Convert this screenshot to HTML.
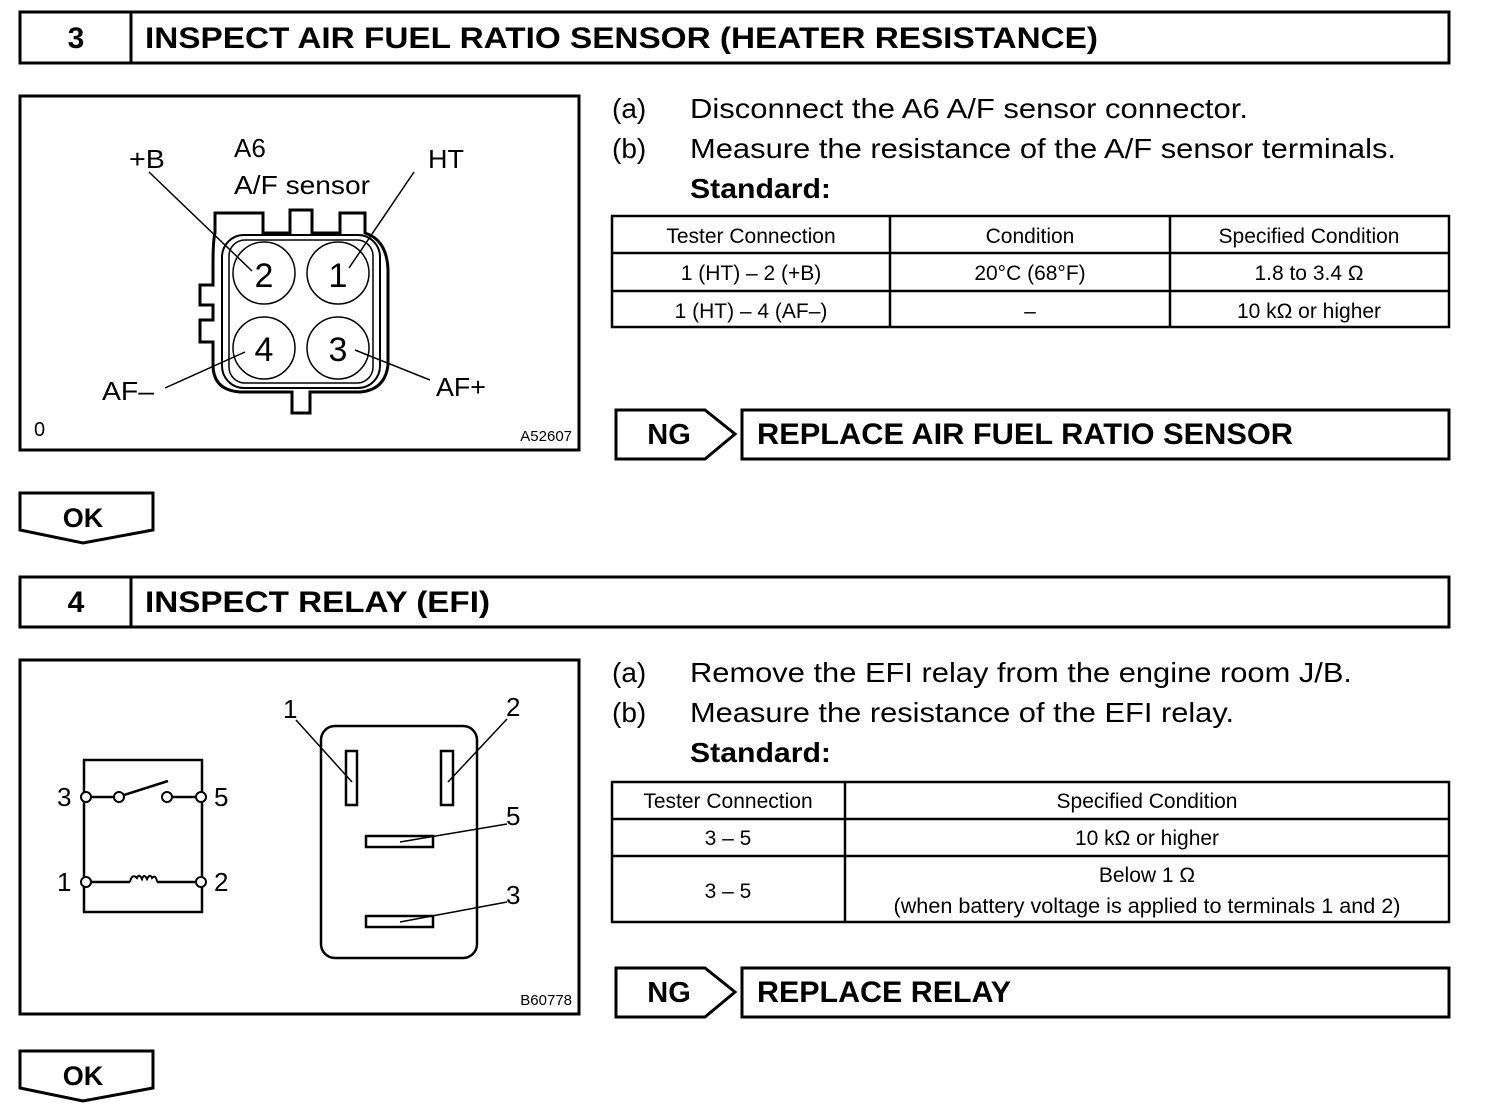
<!DOCTYPE html>
<html><head><meta charset="utf-8"><style>
html,body{margin:0;padding:0;background:#fff;width:1504px;height:1112px;overflow:hidden}
svg{display:block}
text{font-family:"Liberation Sans",Arial,sans-serif;fill:#000}
.b{font-weight:bold}
</style></head><body>
<svg width="1504" height="1112" viewBox="0 0 1504 1112" xmlns="http://www.w3.org/2000/svg">
<g fill="none" stroke="#000" stroke-width="3">
<rect x="20" y="12" width="1429" height="51"/>
<line x1="131" y1="12" x2="131" y2="63"/>
<rect x="20" y="96" width="559" height="354"/>
<rect x="612" y="216" width="837" height="111" stroke-width="2.5"/>
<line x1="612" y1="253" x2="1449" y2="253" stroke-width="2.5"/>
<line x1="612" y1="291" x2="1449" y2="291" stroke-width="2.5"/>
<line x1="890" y1="216" x2="890" y2="327" stroke-width="2.5"/>
<line x1="1170" y1="216" x2="1170" y2="327" stroke-width="2.5"/>
<path d="M616 410 H705 L735 434 L705 459 H616 Z"/>
<rect x="742" y="410" width="707" height="49"/>
<path d="M20 493 H153 V530 L83 543 L20 530 Z"/>
<rect x="20" y="577" width="1429" height="50"/>
<line x1="131" y1="577" x2="131" y2="627"/>
<rect x="20" y="660" width="559" height="354"/>
<rect x="612" y="782" width="837" height="140" stroke-width="2.5"/>
<line x1="612" y1="819" x2="1449" y2="819" stroke-width="2.5"/>
<line x1="612" y1="856" x2="1449" y2="856" stroke-width="2.5"/>
<line x1="845" y1="782" x2="845" y2="922" stroke-width="2.5"/>
<path d="M616 968 H705 L735 992 L705 1017 H616 Z"/>
<rect x="742" y="968" width="707" height="49"/>
<path d="M20 1051 H153 V1088 L83 1101 L20 1088 Z"/>
</g>

<g fill="none" stroke="#000">
<path stroke-width="3" d="M215 233 V213 H263 V233 H290 V210 H312 V233 H340 V213 H365 V233 Q387 240 388 270 V365 Q385 390 360 392 H310 V413 H292 V392 H240 Q213 390 213 365 V342 H200 V320 H213 V305 H200 V285 H213 V265 Q213 240 215 233 Z"/>
<rect x="222" y="235" width="158" height="153" rx="22" stroke-width="2"/>
<rect x="229" y="240" width="144" height="143" rx="16" stroke-width="1.5"/>
<circle cx="264" cy="273" r="31" stroke-width="1.5"/>
<circle cx="338" cy="273" r="31" stroke-width="1.5"/>
<circle cx="264" cy="348" r="31" stroke-width="1.5"/>
<circle cx="338" cy="348" r="31" stroke-width="1.5"/>
<g stroke-width="1.5">
<line x1="149" y1="172" x2="252" y2="271"/>
<line x1="414" y1="172" x2="349" y2="268"/>
<line x1="165" y1="388" x2="245" y2="352"/>
<line x1="355" y1="350" x2="430" y2="380"/>
</g>
</g>
<g>
<text x="264" y="287" font-size="34" text-anchor="middle">2</text>
<text x="338" y="287" font-size="34" text-anchor="middle">1</text>
<text x="264" y="361" font-size="34" text-anchor="middle">4</text>
<text x="338" y="361" font-size="34" text-anchor="middle">3</text>
<text x="129" y="168" font-size="26" textLength="36" lengthAdjust="spacingAndGlyphs">+B</text>
<text x="234" y="157" font-size="26">A6</text>
<text x="234" y="194" font-size="26" textLength="136" lengthAdjust="spacingAndGlyphs">A/F sensor</text>
<text x="428" y="168" font-size="26" textLength="36" lengthAdjust="spacingAndGlyphs">HT</text>
<text x="102" y="400" font-size="26" textLength="52" lengthAdjust="spacingAndGlyphs">AF–</text>
<text x="436" y="396" font-size="26" textLength="50" lengthAdjust="spacingAndGlyphs">AF+</text>
<text x="34" y="436" font-size="20">0</text>
<text x="572" y="441" font-size="15" text-anchor="end">A52607</text>
</g>

<g fill="none" stroke="#000" stroke-width="2.5">
<rect x="84" y="760" width="118" height="152"/>
<line x1="86" y1="797" x2="119" y2="797"/>
<line x1="124" y1="795" x2="168" y2="781"/>
<line x1="167" y1="797" x2="201" y2="797"/>
<line x1="86" y1="882" x2="130" y2="882"/>
<line x1="157" y1="882" x2="201" y2="882"/>
<path d="M130 882 Q132 873 137 878 Q139 873 142 879 Q144 873 147 879 Q150 873 152 878 Q156 874 157 882" stroke-width="2"/>
<rect x="321" y="726" width="156" height="232" rx="14"/>
<rect x="346" y="751" width="11" height="54"/>
<rect x="441" y="751" width="12" height="54"/>
<rect x="366" y="836" width="67" height="11"/>
<rect x="366" y="916" width="67" height="11"/>
<g stroke-width="1.5">
<line x1="296" y1="720" x2="352" y2="782"/>
<line x1="507" y1="719" x2="448" y2="782"/>
<line x1="507" y1="824" x2="400" y2="842"/>
<line x1="507" y1="902" x2="400" y2="922"/>
</g>
</g>
<g fill="#fff" stroke="#000" stroke-width="2">
<circle cx="86" cy="797" r="5"/><circle cx="119" cy="797" r="5"/>
<circle cx="167" cy="797" r="5"/><circle cx="201" cy="797" r="5"/>
<circle cx="86" cy="882" r="5"/><circle cx="201" cy="882" r="5"/>
</g>
<g font-size="26">
<text x="57" y="806">3</text><text x="214" y="806">5</text>
<text x="57" y="891">1</text><text x="214" y="891">2</text>
<text x="283" y="718">1</text><text x="506" y="716">2</text>
<text x="506" y="825">5</text><text x="506" y="904">3</text>
<text x="572" y="1005" font-size="15" text-anchor="end">B60778</text>
</g>

<g class="b" font-size="30">
<text x="76" y="48" text-anchor="middle" class="b">3</text>
<text x="145" y="48" class="b" textLength="953" lengthAdjust="spacingAndGlyphs">INSPECT AIR FUEL RATIO SENSOR (HEATER RESISTANCE)</text>
<text x="76" y="612" text-anchor="middle" class="b">4</text>
<text x="145" y="612" class="b" textLength="345" lengthAdjust="spacingAndGlyphs">INSPECT RELAY (EFI)</text>
<text x="669" y="444" text-anchor="middle" class="b" font-size="29">NG</text>
<text x="757" y="444" class="b" textLength="536" lengthAdjust="spacingAndGlyphs">REPLACE AIR FUEL RATIO SENSOR</text>
<text x="669" y="1002" text-anchor="middle" class="b" font-size="29">NG</text>
<text x="757" y="1002" class="b" textLength="254" lengthAdjust="spacingAndGlyphs">REPLACE RELAY</text>
<text x="83" y="527" text-anchor="middle" class="b" font-size="27">OK</text>
<text x="83" y="1085" text-anchor="middle" class="b" font-size="27">OK</text>
</g>

<g font-size="28">
<text x="612" y="118">(a)</text><text x="690" y="118" textLength="558" lengthAdjust="spacingAndGlyphs">Disconnect the A6 A/F sensor connector.</text>
<text x="612" y="158">(b)</text><text x="690" y="158" textLength="706" lengthAdjust="spacingAndGlyphs">Measure the resistance of the A/F sensor terminals.</text>
<text x="690" y="198" class="b" textLength="141" lengthAdjust="spacingAndGlyphs">Standard:</text>
<text x="612" y="682">(a)</text><text x="690" y="682" textLength="662" lengthAdjust="spacingAndGlyphs">Remove the EFI relay from the engine room J/B.</text>
<text x="612" y="722">(b)</text><text x="690" y="722" textLength="544" lengthAdjust="spacingAndGlyphs">Measure the resistance of the EFI relay.</text>
<text x="690" y="762" class="b" textLength="141" lengthAdjust="spacingAndGlyphs">Standard:</text>
</g>
<g font-size="21" text-anchor="middle">
<text x="751" y="243">Tester Connection</text>
<text x="1030" y="243">Condition</text>
<text x="1309" y="243">Specified Condition</text>
<text x="751" y="280">1 (HT) – 2 (+B)</text>
<text x="1030" y="280">20°C (68°F)</text>
<text x="1309" y="280">1.8 to 3.4 Ω</text>
<text x="751" y="318">1 (HT) – 4 (AF–)</text>
<text x="1030" y="318">–</text>
<text x="1309" y="318">10 kΩ or higher</text>
<text x="728" y="808">Tester Connection</text>
<text x="1147" y="808">Specified Condition</text>
<text x="728" y="845">3 – 5</text>
<text x="1147" y="845">10 kΩ or higher</text>
<text x="728" y="898">3 – 5</text>
<text x="1147" y="882">Below 1 Ω</text>
<text x="1147" y="913" textLength="507" lengthAdjust="spacingAndGlyphs">(when battery voltage is applied to terminals 1 and 2)</text>
</g>
</svg>
</body></html>
